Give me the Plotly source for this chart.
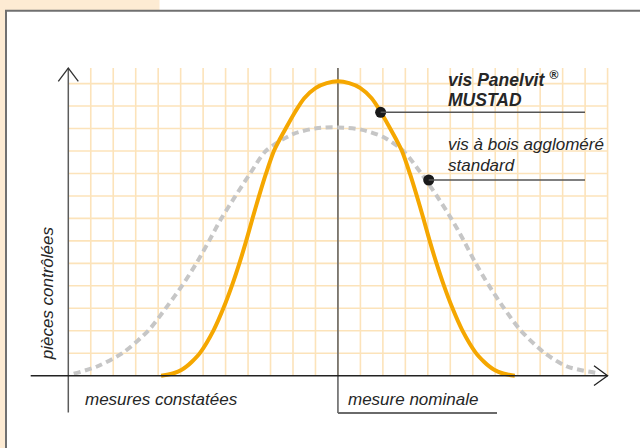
import plotly.graph_objects as go

# ---- data (grid units: x = measure, y = pieces count) ----
mustad_x = [4.13, 4.45, 4.72, 5.05, 5.25, 5.50, 5.88, 6.47, 6.91, 7.29, 7.62, 7.92, 8.20, 8.49, 8.80, 9.15,
            9.40, 9.70, 10.10, 10.50, 11.00, 11.50, 12.00, 12.50, 13.00, 13.50, 13.90, 14.30, 14.60, 14.85,
            15.20, 15.51, 15.80, 16.08, 16.38, 16.71, 17.09, 17.53, 18.12, 18.50, 18.75, 18.95, 19.28, 19.55, 19.87]
mustad_y = [0.00, 0.05, 0.12, 0.27, 0.40, 0.62, 1.04, 2.03, 3.02, 4.03, 5.02, 6.01, 7.01, 8.00, 9.00, 10.00,
            10.50, 11.05, 11.75, 12.35, 12.80, 13.02, 13.10, 13.02, 12.80, 12.35, 11.75, 11.05, 10.50, 10.00,
            9.00, 8.00, 7.01, 6.01, 5.02, 4.03, 3.02, 2.03, 1.04, 0.62, 0.40, 0.27, 0.12, 0.05, 0.00]

standard_x = [0.24, 1.28, 2.46, 3.58, 4.35, 5.08, 5.71, 6.27, 6.80, 7.44, 8.10, 8.80, 10.02, 11.03, 12.00,
              13.03, 14.02, 14.90, 15.70, 16.40, 17.05, 17.60, 18.12, 18.71, 19.38, 20.12, 21.16, 22.20, 23.54]
standard_y = [0.09, 0.41, 1.04, 2.03, 3.02, 4.03, 5.02, 6.01, 6.98, 8.00, 9.01, 10.01, 10.76, 11.01, 11.05,
              10.95, 10.62, 10.01, 9.01, 8.00, 6.98, 6.01, 5.02, 4.03, 3.02, 2.03, 1.04, 0.41, 0.12]

marker_x = [13.90, 16.04]
marker_y = [11.72, 8.71]
labels_bold = ["vis Panelvit <sup>®</sup>", "MUSTAD"]
labels_std = ["vis à bois aggloméré", "standard"]
x_title = "mesures constatées"
x_nominal = "mesure nominale"
y_title = "pièces contrôlées"
nominal = 12
grid_nx = 24
grid_ny = 13

# ---- layout geometry ----
W, H = 640, 448
S = 22.47          # px per grid unit
X0, Y0 = 68.3, 375.7


def ux(px):
    return (px - X0) / S


def vy(py):
    return (Y0 - py) / S


FONT = "Liberation Sans, Arial, sans-serif"
TXT = "#262626"
GRID = "#FCE3BA"
ORANGE = "#F5A700"
GREY = "#C6C6C6"
PEACH = "#FDEBD3"

top_v = vy(68)
shapes = []
# background pieces (paper coords)
shapes.append(dict(type="rect", xref="paper", yref="paper", x0=0, x1=5 / W, y0=0, y1=1,
                   fillcolor=PEACH, line_width=0, layer="below"))
shapes.append(dict(type="rect", xref="paper", yref="paper", x0=0, x1=159.5 / W, y0=1 - 10.2 / H, y1=1,
                   fillcolor=PEACH, line_width=0, layer="below"))
shapes.append(dict(type="line", xref="paper", yref="paper", x0=6 / W, x1=6 / W, y0=0, y1=1 - 10 / H,
                   line=dict(color="#707070", width=2), layer="below"))
shapes.append(dict(type="line", xref="paper", yref="paper", x0=5 / W, x1=1, y0=1 - 10.8 / H, y1=1 - 10.8 / H,
                   line=dict(color="#707070", width=2), layer="below"))
# grid
for i in range(1, grid_nx + 1):
    shapes.append(dict(type="line", xref="x", yref="y", x0=i, x1=i, y0=0, y1=top_v,
                       line=dict(color=GRID, width=1.6), layer="below"))
for j in range(1, grid_ny + 1):
    shapes.append(dict(type="line", xref="x", yref="y", x0=0, x1=grid_nx, y0=j, y1=j,
                       line=dict(color=GRID, width=1.6), layer="below"))
# nominal line + underline
shapes.append(dict(type="line", xref="x", yref="y", x0=nominal, x1=nominal, y0=vy(413), y1=top_v,
                   line=dict(color="#5c5c5c", width=1.5), layer="below"))
shapes.append(dict(type="line", xref="x", yref="y", x0=nominal, x1=ux(497), y0=vy(413), y1=vy(413),
                   line=dict(color="#6a6a6a", width=2)))
# y axis
shapes.append(dict(type="line", xref="x", yref="y", x0=0, x1=0, y0=vy(412.5), y1=top_v,
                   line=dict(color="#5c5c5c", width=1.5)))
shapes.append(dict(type="path", xref="x", yref="y",
                   path=f"M {ux(58.3)},{vy(81.3)} L 0,{top_v} L {ux(78.3)},{vy(81.3)}",
                   line=dict(color="#333333", width=1.3)))
# x axis
shapes.append(dict(type="line", xref="x", yref="y", x0=ux(30.7), x1=grid_nx, y0=0, y1=0,
                   line=dict(color="#222222", width=1.5)))
shapes.append(dict(type="path", xref="x", yref="y",
                   path=f"M {ux(594)},{vy(365.7)} L {grid_nx},0 L {ux(594)},{vy(385.5)}",
                   line=dict(color="#222222", width=1.3)))
# leader lines
for mx, my in zip(marker_x, marker_y):
    shapes.append(dict(type="line", xref="x", yref="y", x0=mx, x1=ux(585), y0=my, y1=my,
                       line=dict(color="#555555", width=1.5)))

fig = go.Figure()
fig.add_trace(go.Scatter(x=standard_x, y=standard_y, mode="lines",
                         line=dict(color=GREY, width=4, dash="7px,4.5px", shape="spline", smoothing=0.8),
                         hoverinfo="skip"))
fig.add_trace(go.Scatter(x=mustad_x, y=mustad_y, mode="lines",
                         line=dict(color=ORANGE, width=4, shape="spline", smoothing=0.8),
                         hoverinfo="skip"))
fig.add_trace(go.Scatter(x=marker_x, y=marker_y, mode="markers",
                         marker=dict(color="#1a1a1a", size=11), hoverinfo="skip"))

ann = []
def add_text(text, px, py, size, bold=False, angle=0, xanchor="left"):
    ann.append(dict(text=f"<b><i>{text}</i></b>" if bold else f"<i>{text}</i>",
                    x=ux(px), y=vy(py), xref="x", yref="y", showarrow=False,
                    xanchor=xanchor, yanchor="middle", textangle=angle,
                    font=dict(family=FONT, size=size, color=TXT)))

add_text(labels_bold[0], 446, 79.0, 17.5, bold=True)
add_text(labels_bold[1], 446, 99.6, 17.5, bold=True)
add_text(labels_std[0], 446, 144.8, 17)
add_text(labels_std[1], 446, 165.1, 17)
add_text(x_title, 83, 399.8, 17)
add_text(x_nominal, 346, 399.8, 17)
add_text(y_title, 47.4, 292.9, 17, angle=-90, xanchor="center")

fig.update_layout(
    width=W, height=H, margin=dict(l=0, r=0, t=0, b=0),
    paper_bgcolor="white", plot_bgcolor="white", showlegend=False,
    xaxis=dict(range=[ux(0), ux(W)], visible=False, fixedrange=True),
    yaxis=dict(range=[vy(H), vy(0)], visible=False, fixedrange=True),
    shapes=shapes, annotations=ann,
)
fig.write_html("out.html", config={"displayModeBar": False},
               post_script="document.body.style.margin='0px';document.body.style.overflow='hidden';")
